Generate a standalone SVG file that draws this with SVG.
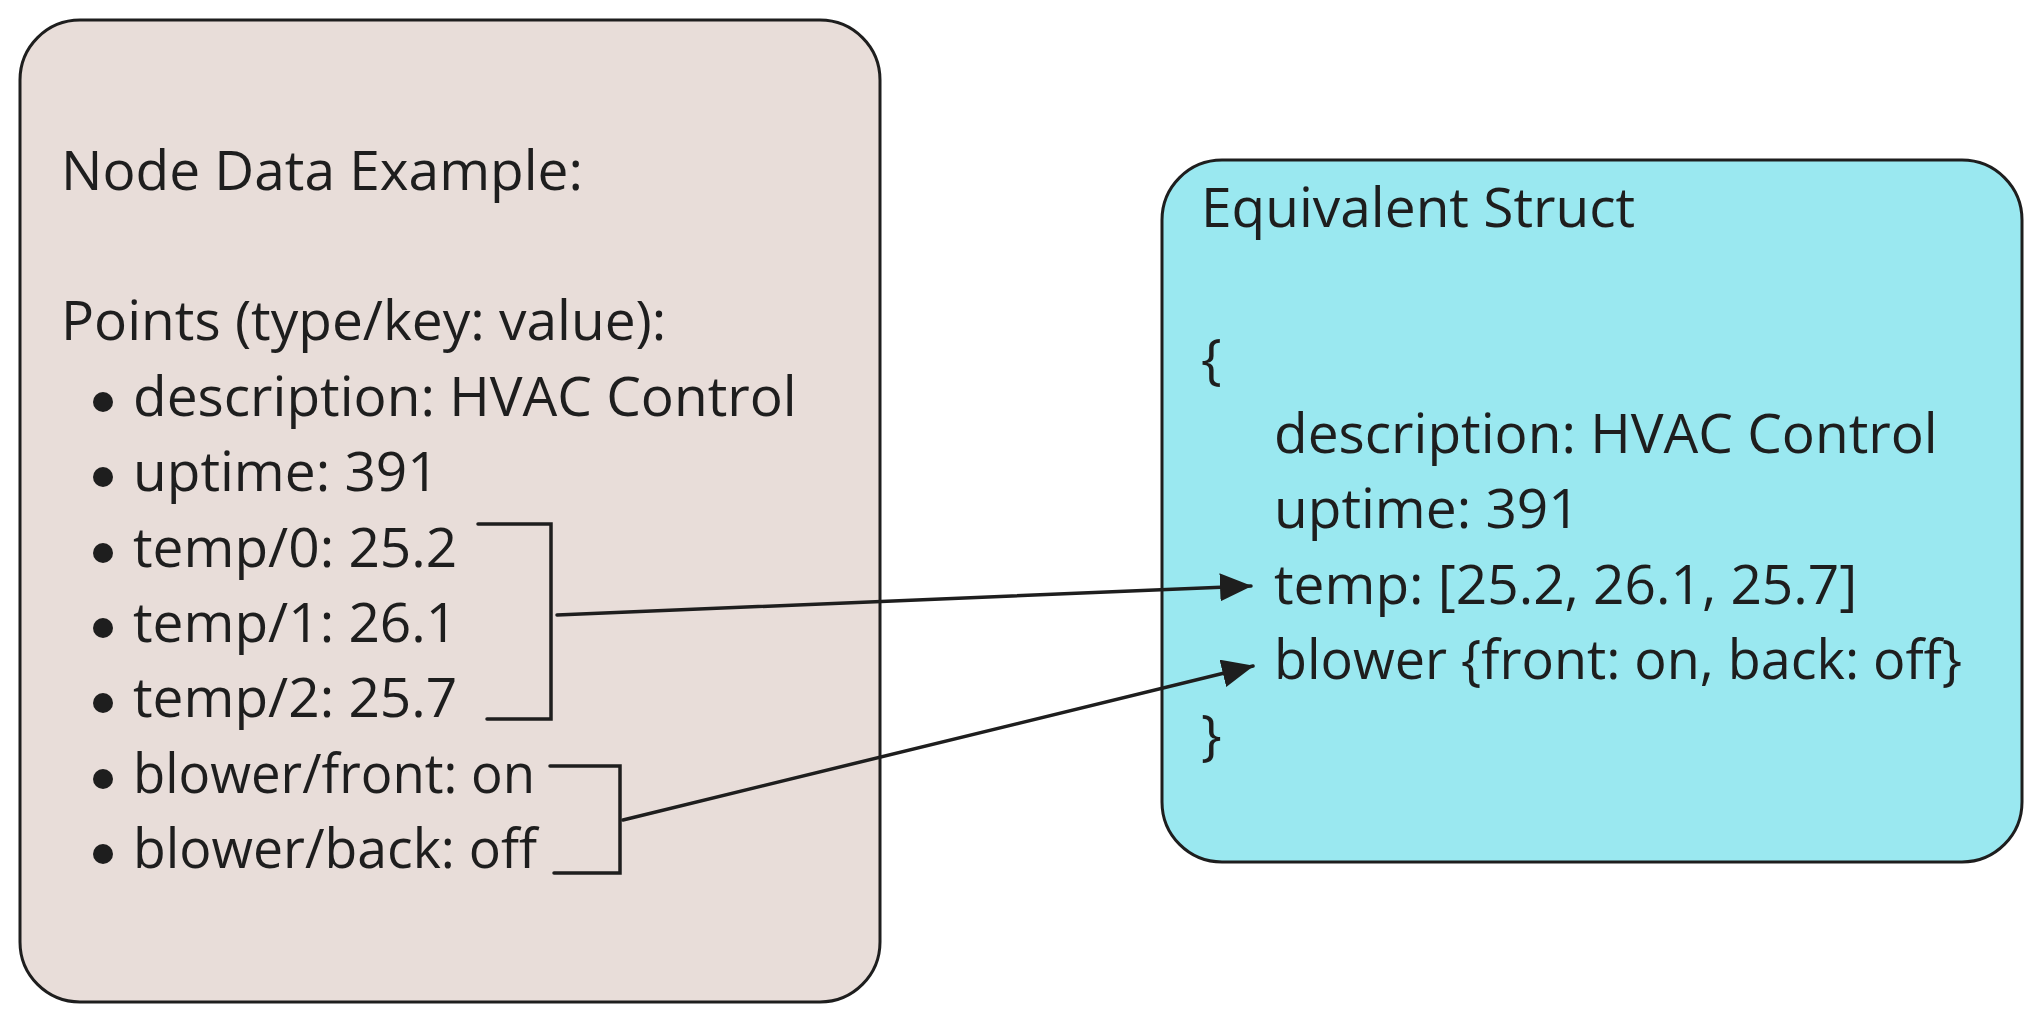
<svg xmlns="http://www.w3.org/2000/svg" width="2041" height="1023" viewBox="0 0 2041 1023">
<style>
.box{stroke:#1e1e1e;stroke-width:3}
.t{font-family:"Open Sans","Noto Sans",sans-serif;font-size:55px;fill:#1e1e1e}
.ln{fill:none;stroke:#1e1e1e;stroke-width:3.5;stroke-linecap:round}
</style>
<defs>
<marker id="arrow" viewBox="0 0 32 28" refX="31" refY="14" markerWidth="32" markerHeight="28" markerUnits="userSpaceOnUse" orient="auto">
<path d="M0,0 L32,14 L0,28 Z" fill="#1e1e1e"/>
</marker>
</defs>
<rect width="2041" height="1023" fill="#ffffff"/>
<g id="node-data">
<rect class="box" x="20" y="20" width="860" height="982" rx="60" ry="60" fill="#e8ddd9"/>
<text class="t" x="61" y="190">Node Data Example:</text>
<text class="t" x="61" y="340">Points (type/key: value):</text>
<g fill="#1e1e1e">
<circle cx="103" cy="402" r="10"/>
<circle cx="103" cy="477" r="10"/>
<circle cx="103" cy="553" r="10"/>
<circle cx="103" cy="628" r="10"/>
<circle cx="103" cy="703" r="10"/>
<circle cx="103" cy="779" r="10"/>
<circle cx="103" cy="854" r="10"/>
</g>
<text class="t" x="133" y="416">description: HVAC Control</text>
<text class="t" x="133" y="491">uptime: 391</text>
<text class="t" x="133" y="567">temp/0: 25.2</text>
<text class="t" x="133" y="642">temp/1: 26.1</text>
<text class="t" x="133" y="717">temp/2: 25.7</text>
<text class="t" x="133" y="793" textLength="402" lengthAdjust="spacingAndGlyphs">blower/front: on</text>
<text class="t" x="133" y="868" textLength="404" lengthAdjust="spacingAndGlyphs">blower/back: off</text>
</g>
<g id="equivalent-struct">
<rect class="box" x="1162" y="160" width="860" height="702" rx="60" ry="60" fill="#9ae8f0"/>
<text class="t" x="1201" y="227">Equivalent Struct</text>
<text class="t" x="1201" y="378">{</text>
<text class="t" x="1274" y="453">description: HVAC Control</text>
<text class="t" x="1274" y="528">uptime: 391</text>
<text class="t" x="1274" y="604">temp: [25.2, 26.1, 25.7]</text>
<text class="t" x="1274" y="679" textLength="688" lengthAdjust="spacingAndGlyphs">blower {front: on, back: off}</text>
<text class="t" x="1201" y="754">}</text>
</g>
<g id="connectors">
<path class="ln" d="M478,524 H551 V719 H487"/>
<path class="ln" d="M550,766 H620 V873 H554"/>
<path class="ln" d="M557,615 L1251,586" marker-end="url(#arrow)"/>
<path class="ln" d="M623,820 L1253,666" marker-end="url(#arrow)"/>
</g>
</svg>
